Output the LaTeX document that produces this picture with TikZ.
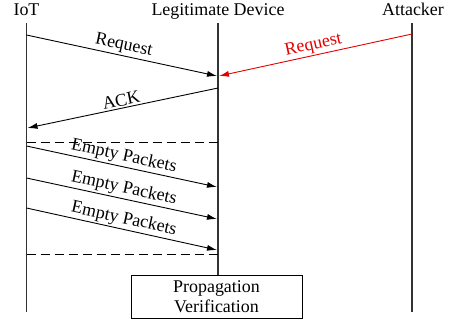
\documentclass[tikz,border=0pt]{standalone}
\usepackage{fontspec}
\setmainfont{Liberation Serif}
\usetikzlibrary{arrows.meta}
\begin{document}
\begin{tikzpicture}[x=1bp,y=-1bp,
  every node/.style={font=\fontsize{18}{21}\selectfont},
  lifeline/.style={line width=1.7bp,draw=black!80},
  msg/.style={line width=0.9bp,-{Latex[length=10bp,width=6bp]}},
  attack/.style={msg,draw=red!90!black,text=red!90!black},
  phase/.style={line width=0.9bp,dash pattern=on 9bp off 5bp},
  lbl/.style={midway,sloped,above,inner sep=1.5bp},
  procbox/.style={draw,line width=0.9bp,align=center,minimum width=171bp,minimum height=43bp,inner sep=0pt}]
\useasboundingbox (0,0) rectangle (459,324);

% participants
\node[anchor=base] (iot) at (26.5,15) {IoT};
\node[anchor=base] (dev) at (218,15) {Legitimate Device};
\node[anchor=base] (att) at (413,15) {Attacker};

% verification step on the device lifeline
\node[procbox] (prop) at (216.5,296.5) {Propagation\\[-1bp]Verification};

% lifelines
\coordinate (iotT) at (26.5,23);  \coordinate (iotB) at (26.5,312);
\coordinate (devT) at (218,23);
\coordinate (attT) at (412,23);   \coordinate (attB) at (412,312);
\draw[lifeline] (iotT) -- (iotB);
\draw[lifeline] (devT) -- (devT |- prop.north);
\draw[lifeline] (attT) -- (attB);

% message end points
\coordinate (r1s) at (26.5,35);  \coordinate (r1e) at (217,76);
\coordinate (r2s) at (412,34);   \coordinate (r2e) at (219,76);
\coordinate (a1s) at (218,88);   \coordinate (a1e) at (27.5,128);
\coordinate (d1s) at (26.5,142); \coordinate (d1e) at (218,142);
\coordinate (e1s) at (26.5,146); \coordinate (e1e) at (217,187);
\coordinate (e2s) at (26.5,178); \coordinate (e2e) at (217,219);
\coordinate (e3s) at (26.5,208); \coordinate (e3e) at (217,250);
\coordinate (d2s) at (26.5,254); \coordinate (d2e) at (218,254);

% messages
\draw[msg] (r1s) -- (r1e) node[lbl] {Request};
\draw[attack] (r2s) -- (r2e) node[lbl] {Request};
\draw[msg] (a1s) -- (a1e) node[lbl] {ACK};
\draw[phase] (d1s) -- (d1e);
\draw[msg] (e1s) -- (e1e) node[lbl] {Empty Packets};
\draw[msg] (e2s) -- (e2e) node[lbl] {Empty Packets};
\draw[msg] (e3s) -- (e3e) node[lbl] {Empty Packets};
\draw[phase] (d2s) -- (d2e);
\end{tikzpicture}
\end{document}
